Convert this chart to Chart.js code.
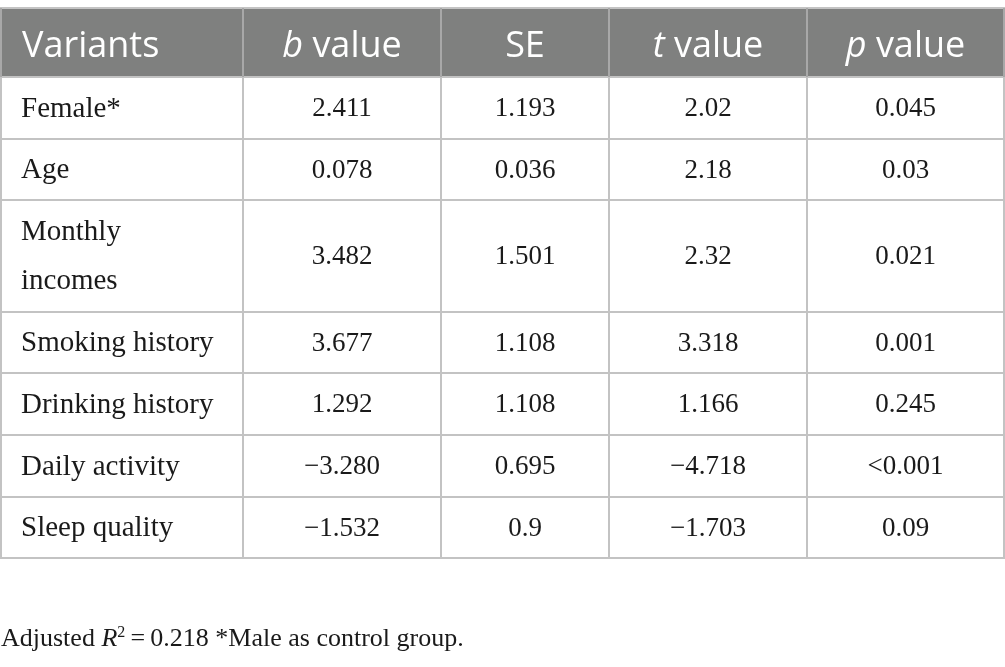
<!DOCTYPE html>
<html>
<head>
<meta charset="utf-8">
<script src="https://cdn.jsdelivr.net/npm/chart.js@4"></script>
<style>
  html, body { margin: 0; padding: 0; background: #fff; }
  #wrap { width: 1005px; height: 667px; }
</style>
</head>
<body>
<div id="wrap"><canvas id="tableChart" width="1005" height="667"></canvas></div>
<script>
// table content
const headItalic = ['', 'b', '', 't', 'p'];
const headText = ['Variants', ' value', 'SE', ' value', ' value'];
const variants = ['Female*', 'Age', 'Monthly\nincomes', 'Smoking history', 'Drinking history', 'Daily activity', 'Sleep quality'];
const bValues = ['2.411', '0.078', '3.482', '3.677', '1.292', '\u22123.280', '\u22121.532'];
const seValues = ['1.193', '0.036', '1.501', '1.108', '1.108', '0.695', '0.9'];
const tValues = ['2.02', '2.18', '2.32', '3.318', '1.166', '\u22124.718', '\u22121.703'];
const pValues = ['0.045', '0.03', '0.021', '0.001', '0.245', '<0.001', '0.09'];
const footNote = ['Adjusted ', 'R', '2', '\u2009=\u20090.218 *Male as control group.'];

// layout (scale units)
const colEdges = [0, 243, 441, 609, 807, 1004];
const rowEdges = [8, 77, 139, 200, 312, 373, 435, 497, 558];
const footY = 639;

const tablePlugin = {
  id: 'tablePlugin',
  afterDraw(chart) {
    const ctx = chart.ctx;
    const xs = chart.scales.x, ys = chart.scales.y;
    const X = v => xs.getPixelForValue(v);
    const Y = v => ys.getPixelForValue(v);
    const columns = [variants, bValues, seValues, tValues, pValues];
    ctx.save();

    // header background
    ctx.fillStyle = '#7f807f';
    ctx.fillRect(X(colEdges[0]), Y(rowEdges[0]), X(colEdges[5]) - X(colEdges[0]), Y(rowEdges[1]) - Y(rowEdges[0]));

    // grid lines
    ctx.lineWidth = 2;
    ctx.strokeStyle = '#c3c3c3';
    rowEdges.forEach(r => {
      ctx.beginPath();
      ctx.moveTo(X(colEdges[0]), Y(r));
      ctx.lineTo(X(colEdges[5]) + 1, Y(r));
      ctx.stroke();
    });
    colEdges.forEach((c, i) => {
      const cx = i === 0 ? X(c) + 1 : X(c);
      ctx.strokeStyle = '#a8a8a8';
      ctx.beginPath();
      ctx.moveTo(cx, Y(rowEdges[0]));
      ctx.lineTo(cx, Y(rowEdges[1]));
      ctx.stroke();
      ctx.strokeStyle = '#c3c3c3';
      ctx.beginPath();
      ctx.moveTo(cx, Y(rowEdges[1]));
      ctx.lineTo(cx, Y(rowEdges[rowEdges.length - 1]));
      ctx.stroke();
    });

    // header text
    ctx.textBaseline = 'alphabetic';
    ctx.fillStyle = '#ffffff';
    const headBase = Y(rowEdges[0]) + 49;
    headText.forEach((t, i) => {
      const itFont = 'italic 36px "Open Sans"';
      const upFont = '36px "Open Sans"';
      ctx.font = itFont;
      const w1 = ctx.measureText(headItalic[i]).width;
      ctx.font = upFont;
      const w2 = ctx.measureText(t).width;
      let x0;
      if (i === 0) x0 = X(colEdges[0]) + 22;
      else x0 = (X(colEdges[i]) + X(colEdges[i + 1])) / 2 - (w1 + w2) / 2;
      ctx.textAlign = 'left';
      ctx.font = itFont;
      ctx.fillText(headItalic[i], x0, headBase);
      ctx.font = upFont;
      ctx.fillText(t, x0 + w1, headBase);
    });

    // body text
    ctx.fillStyle = '#1a1a1a';
    ctx.textBaseline = 'middle';
    for (let r = 0; r < variants.length; r++) {
      const mid = (Y(rowEdges[r + 1]) + Y(rowEdges[r + 2])) / 2 + 1;
      columns.forEach((col, c) => {
        const lines = col[r].split('\n');
        if (c === 0) {
          ctx.font = '29px "Liberation Serif"';
          ctx.textAlign = 'left';
          lines.forEach((ln, k) => {
            const off = (k - (lines.length - 1) / 2) * 49;
            ctx.fillText(ln, X(colEdges[0]) + 21, mid + off);
          });
        } else {
          ctx.font = '27px "Liberation Serif"';
          ctx.textAlign = 'center';
          ctx.fillText(col[r], (X(colEdges[c]) + X(colEdges[c + 1])) / 2, mid);
        }
      });
    }

    // footnote
    ctx.textBaseline = 'alphabetic';
    ctx.textAlign = 'left';
    let fx = X(0) + 1;
    const fy = Y(footY + 7);
    const parts = [
      [footNote[0], '26px "Liberation Serif"', 0],
      [footNote[1], 'italic 26px "Liberation Serif"', 0],
      [footNote[2], '16px "Liberation Serif"', -9],
      [footNote[3], '26px "Liberation Serif"', 0]
    ];
    parts.forEach(([t, f, dy]) => {
      ctx.font = f;
      ctx.fillText(t, fx, fy + dy);
      fx += ctx.measureText(t).width;
    });
    ctx.restore();
  }
};

new Chart(document.getElementById('tableChart'), {
  type: 'scatter',
  data: { datasets: [] },
  options: {
    responsive: false,
    animation: false,
    devicePixelRatio: 1,
    layout: { padding: 0 },
    scales: {
      x: { type: 'linear', min: 0, max: 1005, display: false },
      y: { type: 'linear', min: 0, max: 667, reverse: true, display: false }
    },
    plugins: {
      legend: { display: false },
      tooltip: { enabled: false }
    }
  },
  plugins: [tablePlugin]
});
</script>
</body>
</html>
